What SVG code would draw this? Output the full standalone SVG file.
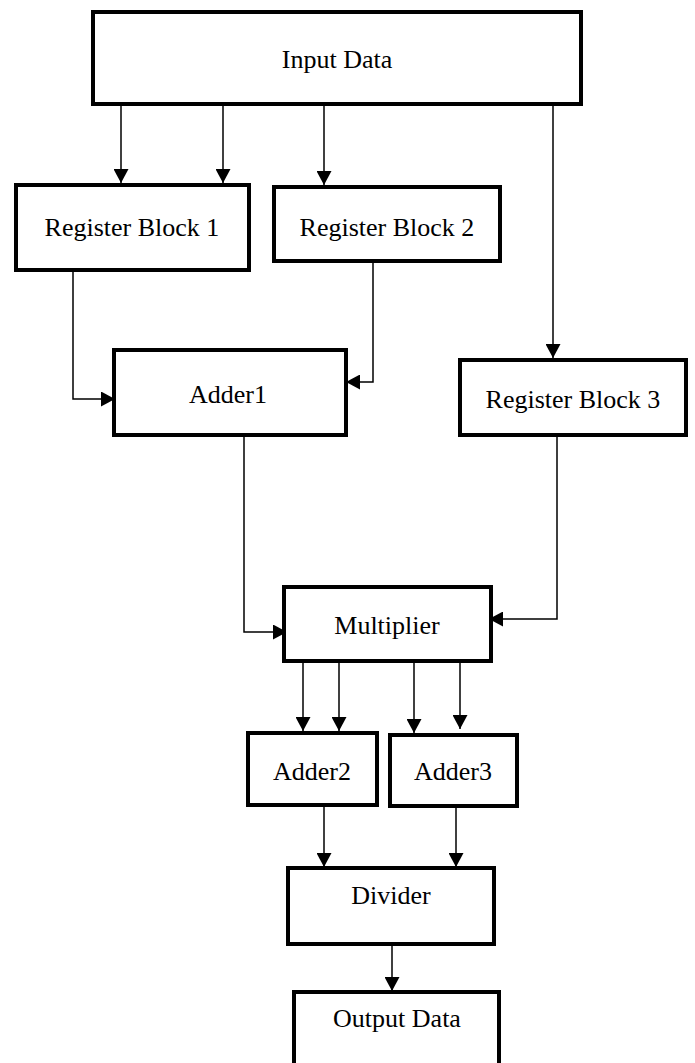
<svg xmlns="http://www.w3.org/2000/svg" width="695" height="1063" viewBox="0 0 695 1063">
<style>
.box{fill:#fff;stroke:#000;stroke-width:4}
.lbl{font-family:"Liberation Serif","Times New Roman",serif;font-size:26px;fill:#000;text-anchor:middle}
.c{fill:none;stroke:#000;stroke-width:1.5}
</style>
<defs>
<marker id="ah" markerUnits="userSpaceOnUse" markerWidth="15" markerHeight="15" refX="14" refY="7.5" orient="auto">
<path d="M0,0 L14,7.5 L0,15 z" fill="#000"/>
</marker>
</defs>
<rect width="695" height="1063" fill="#fff"/>
<g id="connectors">
<path class="c" marker-end="url(#ah)" d="M121,106 V183"/>
<path class="c" marker-end="url(#ah)" d="M223,106 V183"/>
<path class="c" marker-end="url(#ah)" d="M324,106 V185"/>
<path class="c" marker-end="url(#ah)" d="M553,106 V358"/>
<path class="c" marker-end="url(#ah)" d="M73,272 V399 H115"/>
<path class="c" marker-end="url(#ah)" d="M373,263 V382 H346"/>
<path class="c" marker-end="url(#ah)" d="M244,437 V632 H287"/>
<path class="c" marker-end="url(#ah)" d="M557,437 V619 H489"/>
<path class="c" marker-end="url(#ah)" d="M303,663 V731"/>
<path class="c" marker-end="url(#ah)" d="M339,663 V731"/>
<path class="c" marker-end="url(#ah)" d="M414,663 V733"/>
<path class="c" marker-end="url(#ah)" d="M460,663 V729"/>
<path class="c" marker-end="url(#ah)" d="M324,807 V867"/>
<path class="c" marker-end="url(#ah)" d="M456,808 V867"/>
<path class="c" marker-end="url(#ah)" d="M392,946 V991"/>
</g>
<g id="input-data"><rect class="box" x="93" y="12" width="488" height="92"/><text class="lbl" x="337" y="68">Input Data</text></g>
<g id="register-block-1"><rect class="box" x="16" y="185" width="233" height="85"/><text class="lbl" x="132" y="236">Register Block 1</text></g>
<g id="register-block-2"><rect class="box" x="274" y="187" width="226" height="74"/><text class="lbl" x="387" y="236">Register Block 2</text></g>
<g id="adder1"><rect class="box" x="114" y="350" width="232" height="85"/><text class="lbl" x="228" y="403">Adder1</text></g>
<g id="register-block-3"><rect class="box" x="460" y="360" width="226" height="75"/><text class="lbl" x="573" y="408">Register Block 3</text></g>
<g id="multiplier"><rect class="box" x="284" y="587" width="207" height="74"/><text class="lbl" x="387" y="634">Multiplier</text></g>
<g id="adder2"><rect class="box" x="248" y="733" width="129" height="72"/><text class="lbl" x="312" y="780">Adder2</text></g>
<g id="adder3"><rect class="box" x="390" y="735" width="127" height="71"/><text class="lbl" x="453" y="780">Adder3</text></g>
<g id="divider"><rect class="box" x="288" y="868" width="206" height="76"/><text class="lbl" x="391" y="904">Divider</text></g>
<g id="output-data"><rect class="box" x="294" y="992" width="205" height="80"/><text class="lbl" x="397" y="1027">Output Data</text></g>
</svg>
